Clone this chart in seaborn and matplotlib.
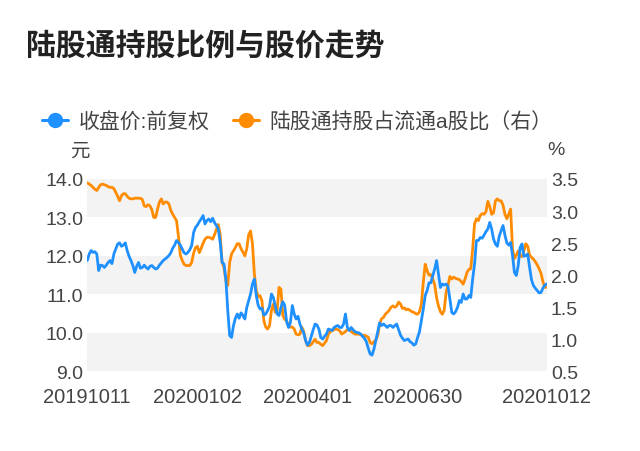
import numpy as np
import pandas as pd
import matplotlib
matplotlib.use("Agg")
import matplotlib.pyplot as plt
from matplotlib.lines import Line2D
import seaborn as sns

title = "陆股通持股比例与股价走势"
label_price = "收盘价:前复权"
label_ratio = "陆股通持股占流通a股比（右）"
tick_labels = ["20191011", "20200102", "20200401", "20200630", "20201012"]
tick_index = [0, 58, 116, 174, 242]

price = [
    11.88, 12.05, 12.14, 12.09, 12.11, 12.05, 11.62, 11.76, 11.75, 11.70,
    11.76, 11.83, 11.88, 11.80, 12.05, 12.18, 12.31, 12.34, 12.25, 12.28,
    12.34, 12.14, 11.99, 11.88, 11.75, 11.57, 11.73, 11.83, 11.68, 11.70,
    11.76, 11.70, 11.66, 11.73, 11.75, 11.70, 11.66, 11.68, 11.76, 11.82,
    11.88, 11.92, 11.96, 12.01, 12.08, 12.20, 12.28, 12.40, 12.35, 12.28,
    12.18, 12.08, 12.05, 12.09, 12.16, 12.27, 12.61, 12.74, 12.80, 12.89,
    12.96, 13.05, 12.83, 12.92, 12.96, 12.89, 12.98, 12.87, 12.79, 12.70,
    12.35, 11.83, 11.79, 11.40, 10.58, 9.93, 9.88, 10.19, 10.38, 10.49,
    10.38, 10.52, 10.45, 10.36, 10.66, 10.84, 11.01, 11.27, 11.40, 10.97,
    10.72, 10.62, 10.64, 10.46, 10.49, 10.58, 10.69, 11.01, 10.92, 10.71,
    10.49, 10.45, 10.66, 10.81, 10.71, 10.29, 10.14, 10.27, 10.71, 10.49,
    10.36, 10.43, 10.23, 10.10, 10.00, 9.80, 9.68, 9.75, 9.91, 10.08,
    10.23, 10.20, 10.10, 9.88, 9.84, 9.91, 9.97, 10.10, 10.08, 10.06,
    10.14, 10.17, 10.19, 10.14, 10.14, 10.23, 10.49, 10.14, 10.06, 10.14,
    10.08, 10.03, 10.01, 10.00, 9.97, 9.91, 9.86, 9.77, 9.60, 9.45,
    9.42, 9.58, 9.80, 10.03, 10.26, 10.19, 10.23, 10.19, 10.14, 10.19,
    10.19, 10.14, 10.19, 10.23, 10.08, 9.94, 9.86, 9.80, 9.82, 9.84,
    9.77, 9.74, 9.68, 9.71, 9.88, 10.03, 10.32, 10.62, 10.97, 11.10,
    11.30, 11.30, 11.49, 11.66, 11.88, 11.53, 11.18, 11.27, 11.24, 11.27,
    11.21, 10.88, 10.53, 10.49, 10.55, 10.66, 10.84, 10.79, 11.01, 10.88,
    10.88, 10.97, 10.92, 11.40, 11.79, 12.40, 12.40, 12.48, 12.46, 12.54,
    12.63, 12.70, 12.87, 12.70, 12.44, 12.31, 12.25, 12.51, 12.66, 12.79,
    12.54, 12.34, 12.28, 12.35, 12.01, 11.57, 11.49, 11.75, 12.22, 12.31,
    11.99, 12.01, 12.05, 11.70, 11.38, 11.23, 11.16, 11.10, 11.04, 11.05,
    11.16, 11.24, 11.27,
]

ratio = [
    3.44, 3.42, 3.40, 3.37, 3.34, 3.32, 3.37, 3.41, 3.42, 3.41,
    3.40, 3.38, 3.37, 3.37, 3.35, 3.29, 3.23, 3.16, 3.24, 3.27,
    3.27, 3.23, 3.20, 3.19, 3.19, 3.20, 3.20, 3.20, 3.20, 3.18,
    3.08, 3.07, 3.10, 3.08, 3.02, 2.90, 2.90, 3.03, 3.14, 3.19,
    3.11, 3.14, 3.14, 3.11, 3.01, 2.95, 2.90, 2.85, 2.61, 2.31,
    2.23, 2.17, 2.15, 2.15, 2.15, 2.20, 2.34, 2.43, 2.45, 2.35,
    2.42, 2.50, 2.56, 2.59, 2.59, 2.58, 2.56, 2.63, 2.71, 2.79,
    2.63, 2.20, 2.12, 1.91, 1.84, 2.20, 2.33, 2.38, 2.43, 2.49,
    2.49, 2.41, 2.36, 2.30, 2.41, 2.63, 2.69, 2.49, 2.02, 1.76,
    1.66, 1.68, 1.60, 1.29, 1.19, 1.16, 1.21, 1.45, 1.55, 1.42,
    1.45, 1.81, 1.78, 1.37, 1.31, 1.29, 1.21, 1.19, 1.19, 1.16,
    1.08, 1.07, 1.08, 1.19, 1.12, 0.98, 0.90, 0.90, 0.92, 0.96,
    1.00, 0.95, 0.95, 0.92, 0.90, 0.94, 0.98, 1.08, 1.12, 1.13,
    1.15, 1.16, 1.15, 1.13, 1.08, 1.10, 1.12, 1.15, 1.15, 1.12,
    1.10, 1.08, 1.08, 1.08, 1.07, 1.06, 1.06, 1.05, 1.03, 0.95,
    0.93, 0.96, 0.99, 1.06, 1.24, 1.32, 1.34, 1.39, 1.42, 1.45,
    1.50, 1.52, 1.50, 1.52, 1.58, 1.55, 1.48, 1.49, 1.46, 1.47,
    1.45, 1.43, 1.42, 1.40, 1.39, 1.43, 1.55, 1.89, 2.17, 2.07,
    2.00, 2.01, 1.94, 1.85, 1.65, 1.52, 1.43, 1.39, 1.45, 1.73,
    1.84, 1.98, 1.94, 1.97, 1.95, 1.94, 1.93, 1.90, 1.86, 1.94,
    2.04, 2.09, 2.10, 2.41, 2.80, 2.88, 2.85, 2.93, 2.96, 2.95,
    2.99, 3.15, 3.07, 2.95, 2.97, 3.16, 3.19, 3.16, 3.16, 3.09,
    2.95, 2.88, 2.95, 3.03, 2.41, 2.26, 2.31, 2.38, 2.30, 2.29,
    2.38, 2.49, 2.45, 2.31, 2.28, 2.25, 2.21, 2.16, 2.10, 2.03,
    1.90, 1.81, 1.81,
]

left_ticks = [9.0, 10.0, 11.0, 12.0, 13.0, 14.0]
right_ticks = [0.5, 1.0, 1.5, 2.0, 2.5, 3.0, 3.5]
band_starts = [9.0, 11.0, 13.0]

blue = "#1E90FF"
orange = "#FF8C00"
text_color = "#444444"
band_color = "#F3F3F3"

sns.set_style("white")
plt.rcParams["font.family"] = ["Liberation Sans", "Noto Sans CJK SC", "DejaVu Sans"]

df = pd.DataFrame({"idx": np.arange(len(price)), "price": price, "ratio": ratio})

fig = plt.figure(figsize=(6.4, 4.52), dpi=100)
ax = fig.add_axes([0.1364, 0.1763, 0.7178, 0.4255])
ax2 = ax.twinx()

sns.lineplot(data=df, x="idx", y="price", ax=ax, color=blue, linewidth=2.0, zorder=3)
sns.lineplot(data=df, x="idx", y="ratio", ax=ax2, color=orange, linewidth=2.0, zorder=3)

ax.set_xlim(0, len(price) - 1)
ax.set_ylim(9.0, 14.0)
ax2.set_ylim(0.5, 3.5)

# alternating background bands (left-axis units), drawn on the lower (right-axis) axes
for lo in band_starts:
    ax2.axhspan(0.5 + (lo - 9.0) * 0.6, 0.5 + (lo - 8.0) * 0.6, color=band_color, zorder=0, lw=0)

ax.set_yticks(left_ticks)
ax.set_yticklabels([f"{v:.1f}" for v in left_ticks])
ax2.set_yticks(right_ticks)
ax2.set_yticklabels([f"{v:.1f}" for v in right_ticks])
ax.set_xticks(tick_index)
ax.set_xticklabels(tick_labels)
for a in (ax, ax2):
    a.set_xlabel("")
    a.set_ylabel("")
    a.grid(False)
    for s in a.spines.values():
        s.set_visible(False)
    a.tick_params(length=0, labelsize=14, colors=text_color)
ax.tick_params(axis="y", pad=3)
ax2.tick_params(axis="y", pad=3)
ax.tick_params(axis="x", pad=11, labelsize=14.5)

ax.set_zorder(ax2.get_zorder() + 1)
ax.patch.set_visible(False)

fig.text(0.041, 0.898, title, fontsize=21.5, fontweight="bold", color="#222222", va="center", ha="left")

handles = [
    Line2D([0], [0], color=blue, lw=2.2, marker="o", markersize=10),
    Line2D([0], [0], color=orange, lw=2.2, marker="o", markersize=10),
]
fig.legend(handles, [label_price, label_ratio], loc="center left", bbox_to_anchor=(0.066, 0.730),
           ncol=2, frameon=False, handlelength=1.25, handletextpad=0.5, columnspacing=1.1,
           borderpad=0, borderaxespad=0, fontsize=15, labelcolor=text_color)

fig.text(0.125, 0.664, "元", fontsize=14, color=text_color, ha="center", va="center")
fig.text(0.869, 0.666, "%", fontsize=14, color=text_color, ha="center", va="center")

fig.savefig("out.png", dpi=100, facecolor="white")
